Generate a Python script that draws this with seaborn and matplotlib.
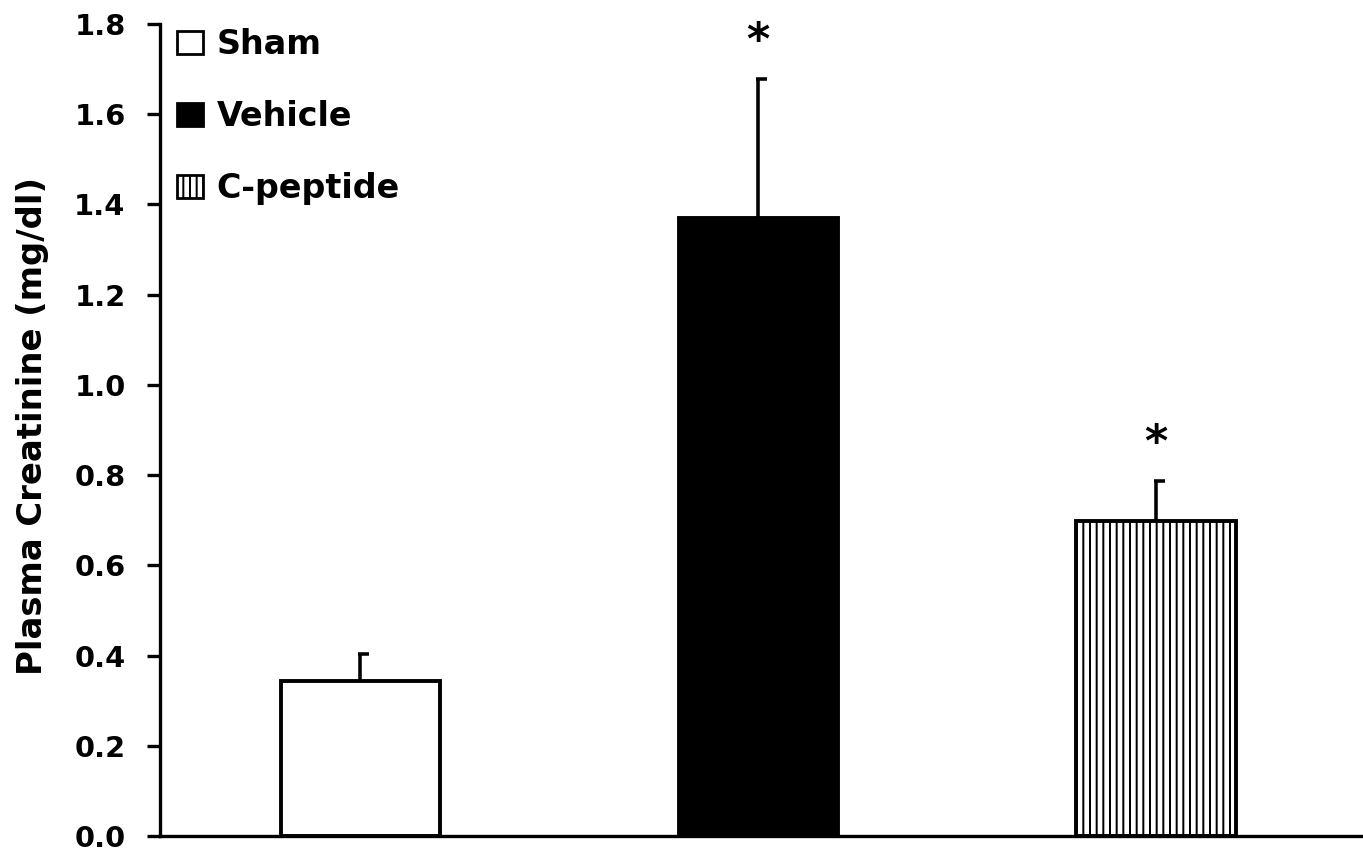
import pandas as pd
import matplotlib
matplotlib.use("Agg")
import matplotlib.pyplot as plt
from matplotlib.patches import Patch
import seaborn as sns

# Plasma creatinine per group (mean, upper SEM)
groups = ['Sham', 'Vehicle', 'C-peptide']
means = [0.344, 1.370, 0.698]
sem = [0.060, 0.308, 0.089]
significant = [False, True, True]

fills = ['white', 'black', 'white']
hatches = ['', '', '||']

df = pd.DataFrame({'Group': groups, 'Creatinine': means})

sns.set_style("ticks")
plt.rcParams['font.family'] = ['DejaVu Sans']
plt.rcParams['font.weight'] = 'bold'
plt.rcParams['hatch.linewidth'] = 1.8
plt.rcParams['hatch.color'] = 'black'
for key in ['text.color', 'axes.labelcolor', 'xtick.color', 'ytick.color',
            'axes.edgecolor']:
    plt.rcParams[key] = 'black'

DPI = 80
fig = plt.figure(figsize=(1363 / DPI, 856 / DPI), dpi=DPI)
ax = fig.add_axes([0.1174, 0.0234, 0.8826, 0.9486])

sns.barplot(data=df, x='Group', y='Creatinine', hue='Group',
            palette=dict(zip(groups, fills)), width=0.4,
            edgecolor='black', linewidth=3.5, legend=False, ax=ax)

for bar, h in zip(ax.patches, hatches):
    bar.set_hatch(h)
    bar.set_edgecolor('black')

# upward-only error bars with half caps
xs = range(len(groups))
ax.errorbar(xs, means, yerr=[[0] * len(means), sem], fmt='none',
            ecolor='black', elinewidth=3.2, capsize=0, zorder=3)
tops = [m + s for m, s in zip(means, sem)]
for x, t in zip(xs, tops):
    ax.hlines(t, x - 0.006, x + 0.022, colors='black', lw=3.2, zorder=3)

for x, t, sig in zip(xs, tops, significant):
    if sig:
        ax.text(x, t + 0.083, '*', ha='center', va='center',
                fontsize=40, fontweight='bold')

ax.set_ylim(0, 1.8)
ax.set_xlim(-0.503, 2.52)
ax.set_yticks([0.0, 0.2, 0.4, 0.6, 0.8, 1.0, 1.2, 1.4, 1.6, 1.8])
ax.set_yticklabels([f'{v:.1f}' for v in ax.get_yticks()])
ax.set_xticks([])
ax.set_xlabel('')
ax.set_ylabel('Plasma Creatinine (mg/dl)', fontsize=30.5, fontweight='bold')
ax.yaxis.set_label_coords(-0.092, 0.505)

ax.tick_params(axis='y', labelsize=26, length=12, width=3, pad=19)
for side in ['top', 'right']:
    ax.spines[side].set_visible(False)
for side in ['left', 'bottom']:
    ax.spines[side].set_linewidth(3)

handles = [Patch(facecolor=f, edgecolor='black', hatch=h, linewidth=2.5)
           for f, h in zip(fills, hatches)]
ax.legend(handles, groups, loc='upper left', bbox_to_anchor=(0.014, 0.995),
          frameon=False, fontsize=30, handlelength=0.78, handleheight=0.69,
          handletextpad=0.42, labelspacing=1.17, borderpad=0, borderaxespad=0)

fig.savefig('out.png', dpi=DPI)
